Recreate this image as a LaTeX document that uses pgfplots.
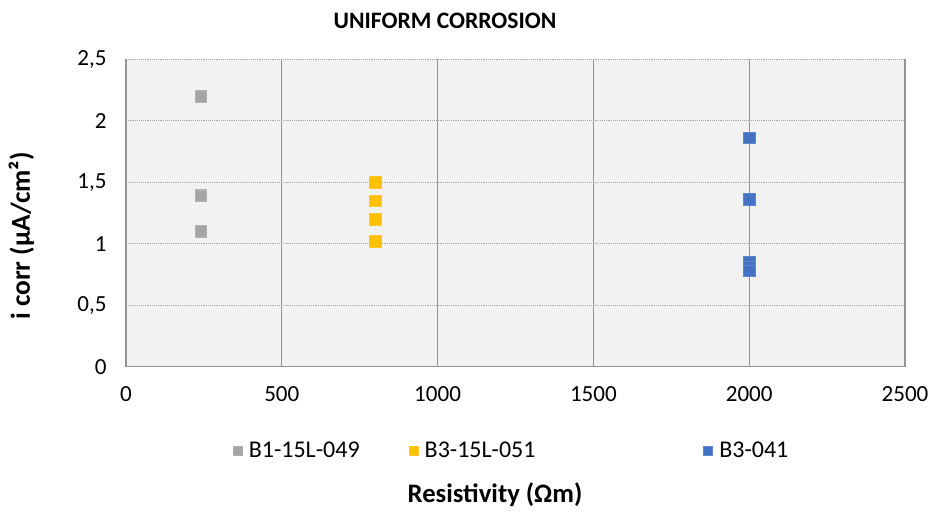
\documentclass[border=0pt]{standalone}
\usepackage{pgfplots}
\pgfplotsset{compat=1.18}
\usepackage{fontspec}
\setmainfont{Carlito}
\definecolor{cgray}{HTML}{A5A5A5}
\definecolor{cyel}{HTML}{FFC000}
\definecolor{cblue}{HTML}{4472C4}
\definecolor{bg}{HTML}{F2F2F2}
\definecolor{gridc}{HTML}{A6A6A6}
\begin{document}
\begin{tikzpicture}
\path[use as bounding box] (0,0) rectangle (699.75pt,384.75pt);
\begin{axis}[
  at={(94.5pt,109.75pt)}, anchor=south west,
  scale only axis, width=584.25pt, height=230.5pt,
  xmin=0, xmax=2500, ymin=0, ymax=2.5,
  xtick={0,500,1000,1500,2000,2500},
  xticklabels={0,500,1000,1500,2000,2500},
  ytick={0,0.5,1,1.5,2,2.5},
  yticklabels={0,{0,5},1,{1,5},2,{2,5}},
  major tick length=0,
  tick label style={font=\fontsize{17.3}{20}\selectfont},
  xticklabel style={yshift=-11pt},
  yticklabel style={xshift=-11pt},
  axis line style={draw=none},
  axis background/.style={fill=bg},
  ymajorgrids, xmajorgrids,
  y grid style={gridc, densely dotted, line width=0.6pt},
  x grid style={color=gray!85, line width=0.9pt},
  legend columns=3,
  legend style={at={(0.1375,-0.274)}, anchor=west, draw=none, fill=none,
    inner sep=0pt, outer sep=0pt,
    font=\fontsize{18}{21}\selectfont,
    /tikz/column 1/.style={column sep=3pt},
    /tikz/column 3/.style={column sep=3pt},
    /tikz/column 5/.style={column sep=3pt},
    /tikz/column 2/.style={column sep=35pt},
    /tikz/column 4/.style={column sep=124pt}},
  legend image code/.code={\draw[#1, mark size=3.4pt] plot coordinates {(0cm,0cm)};},
  legend cell align=left,
  clip=false,
]
\draw[gray!85, line width=0.8pt] (rel axis cs:0,1) -- (rel axis cs:0,0) -- (rel axis cs:1,0) -- (rel axis cs:1,1);
\addplot[only marks, mark=square*, mark size=4.3pt, mark options={fill=cgray, draw=cgray!85!white}] coordinates {(240,2.2) (240,1.4) (240,1.39) (240,1.1)};
\addlegendentry{B1-15L-049}
\addplot[only marks, mark=square*, mark size=4.3pt, mark options={fill=cyel, draw=cyel!85!white}] coordinates {(800,1.5) (800,1.35) (800,1.2) (800,1.02)};
\addlegendentry{B3-15L-051}
\addplot[only marks, mark=square*, mark size=4.3pt, mark options={fill=cblue, draw=cblue!85!white}] coordinates {(2000,1.86) (2000,1.36) (2000,0.85) (2000,0.81) (2000,0.78)};
\addlegendentry{B3-041}
\end{axis}
\node[font=\bfseries\fontsize{17.7}{20}\selectfont] at (333.75pt,369pt) {UNIFORM CORROSION};
\node[font=\bfseries\fontsize{20.5}{24}\selectfont, rotate=90] at (16pt,207.75pt) {i corr (µA/cm²)};
\node[font=\bfseries\fontsize{20}{24}\selectfont] at (371.25pt,13.5pt) {Resistivity (Ωm)};
\end{tikzpicture}
\end{document}
